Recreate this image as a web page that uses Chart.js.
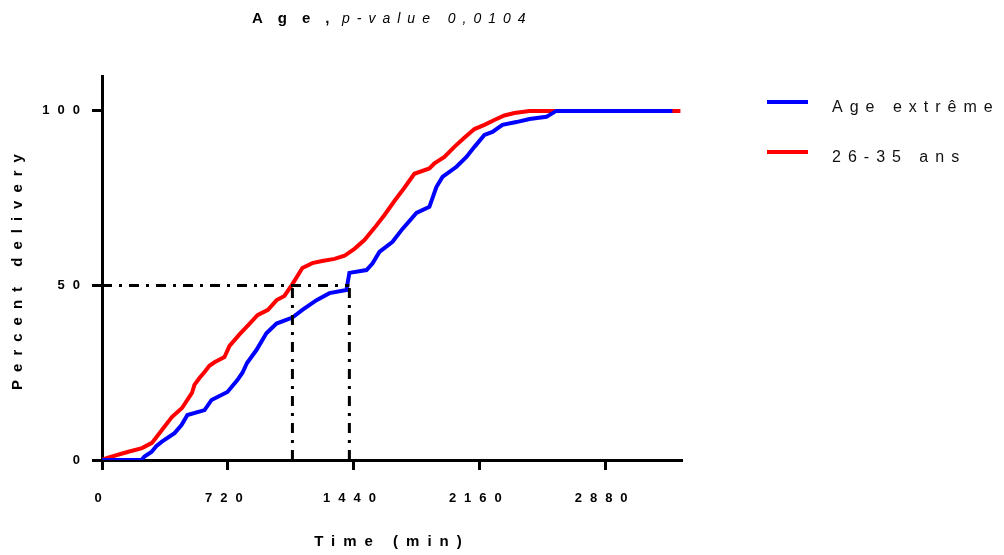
<!DOCTYPE html>
<html lang="en">

<head>
  <meta charset="UTF-8">
  <script src="https://cdn.jsdelivr.net/npm/chart.js"></script>
  <style>
    body { margin: 0; background: #fff; }
    .chart-box { width: 1004px; height: 555px; }
  </style>
</head>

<body>
  <div class="chart-box"><canvas id="deliveryChart"></canvas></div>

  <script>
    const titleMain = 'Age,';
    const titleSub = 'p-value 0,0104';
    const seriesNames = ['Age extrême', '26-35 ans'];

    // cumulative % delivered vs time (min)
    const extremeTimes = [0, 226, 243, 283, 312, 341, 415, 455, 489, 587, 627, 718, 775, 804, 830, 884, 941, 999, 1090, 1147, 1228, 1302, 1399, 1416, 1514, 1548, 1588, 1663, 1720, 1800, 1874, 1914, 1949, 2029, 2086, 2132, 2189, 2235, 2292, 2372, 2447, 2544, 2600, 3265];
    const extremePct = [0, 0, 1, 2.3, 4, 5.2, 7.7, 10, 12.9, 14.3, 17.2, 19.5, 22.9, 25, 27.8, 31.5, 36.3, 39.1, 40.8, 43, 45.8, 47.8, 48.7, 53.6, 54.4, 56.3, 59.6, 62.5, 66.2, 70.8, 72.5, 78.2, 81.1, 84, 86.8, 89.7, 93.1, 94, 96, 96.8, 97.7, 98.3, 100, 100];

    const youngTimes = [0, 30, 146, 229, 286, 343, 400, 458, 515, 529, 558, 587, 615, 644, 701, 730, 787, 844, 890, 950, 1000, 1044, 1090, 1147, 1204, 1260, 1331, 1388, 1445, 1502, 1560, 1617, 1674, 1731, 1788, 1874, 1903, 1960, 2017, 2074, 2132, 2189, 2246, 2303, 2361, 2447, 3311];
    const youngPct = [0, 0.6, 2.3, 3.4, 4.9, 8.6, 12.3, 14.9, 19.2, 21.5, 23.5, 25.2, 27, 28, 29.5, 32.7, 36, 39, 41.5, 43, 45.8, 47, 50.4, 55, 56.4, 57, 57.6, 58.5, 60.5, 63, 66.5, 70.2, 74.2, 78, 82, 83.5, 85, 86.8, 89.7, 92.3, 94.8, 96, 97.4, 98.7, 99.4, 100, 100];

    const medianTimes = [1090, 1416];
    const medianLevel = 50;

    const xTicks = [0, 720, 1440, 2160, 2880];
    const yTicks = [0, 50, 100];
    const xMax = 3320;
    const yMax = 110;

    const toPoints = (xs, ys) => xs.map((x, i) => ({ x: x, y: ys[i] }));

    const dashStyle = {
      borderColor: '#000',
      borderWidth: 3,
      borderDash: [10, 7, 3, 7],
      pointRadius: 0,
      order: 0
    };

    // title, letter spacing and the legend on the right
    const extrasPlugin = {
      id: 'extras',
      beforeDraw(chart) {
        chart.ctx.letterSpacing = '8px';
      },
      afterDraw(chart) {
        const ctx = chart.ctx;
        ctx.save();
        ctx.fillStyle = '#000';
        ctx.textAlign = 'left';
        ctx.textBaseline = 'alphabetic';

        ctx.letterSpacing = '15px';
        ctx.font = 'bold 15px "Liberation Sans", Arial, sans-serif';
        ctx.fillText(titleMain, 252, 23);
        ctx.letterSpacing = '7px';
        ctx.font = 'italic 14px "Liberation Sans", Arial, sans-serif';
        ctx.fillText(titleSub, 342, 23);

        ctx.letterSpacing = '7px';
        ctx.font = '16px "Liberation Sans", Arial, sans-serif';
        const items = chart.data.datasets.filter(d => seriesNames.includes(d.label));
        items.sort((a, b) => seriesNames.indexOf(a.label) - seriesNames.indexOf(b.label));
        items.forEach((ds, i) => {
          const y = 102 + i * 50;
          ctx.strokeStyle = ds.borderColor;
          ctx.lineWidth = 4;
          ctx.beginPath();
          ctx.moveTo(767, y);
          ctx.lineTo(808, y);
          ctx.stroke();
          ctx.fillStyle = '#111';
          ctx.fillText(ds.label, 832, y + 10);
        });
        ctx.restore();
      }
    };

    Chart.defaults.font.family = '"Liberation Sans", Arial, sans-serif';
    Chart.defaults.color = '#000';

    new Chart(document.getElementById('deliveryChart'), {
      type: 'line',
      data: {
        datasets: [
          Object.assign({ data: [{ x: 0, y: medianLevel }, { x: medianTimes[1], y: medianLevel }] }, dashStyle),
          Object.assign({ data: [{ x: medianTimes[0], y: 0 }, { x: medianTimes[0], y: medianLevel }] }, dashStyle),
          Object.assign({ data: [{ x: medianTimes[1], y: 0 }, { x: medianTimes[1], y: medianLevel }] }, dashStyle),
          {
            label: seriesNames[0],
            data: toPoints(extremeTimes, extremePct),
            borderColor: '#0000FF',
            borderWidth: 4,
            tension: 0,
            pointRadius: 0,
            order: 1
          },
          {
            label: seriesNames[1],
            data: toPoints(youngTimes, youngPct),
            borderColor: '#FF0000',
            borderWidth: 4,
            tension: 0,
            pointRadius: 0,
            order: 2
          }
        ]
      },
      options: {
        responsive: true,
        maintainAspectRatio: false,
        animation: false,
        layout: { padding: { top: 76, right: 322, left: 0, bottom: 0 } },
        plugins: {
          legend: { display: false },
          tooltip: { enabled: false }
        },
        scales: {
          x: {
            type: 'linear',
            min: 0,
            max: xMax,
            afterBuildTicks: scale => { scale.ticks = xTicks.map(v => ({ value: v })); },
            afterFit: scale => { scale.height = 95; },
            border: { color: '#000', width: 3 },
            grid: { drawOnChartArea: false, tickLength: 10, tickWidth: 3, tickColor: '#000' },
            ticks: {
              color: '#000',
              padding: 21,
              maxRotation: 0,
              font: { size: 13, weight: 'bold' },
              callback: value => String(value)
            },
            title: {
              display: true,
              text: 'Time (min)',
              color: '#000',
              font: { size: 15, weight: 'bold' },
              padding: { top: 0, bottom: 4 }
            }
          },
          y: {
            min: 0,
            max: yMax,
            afterBuildTicks: scale => { scale.ticks = yTicks.map(v => ({ value: v })); },
            afterFit: scale => { scale.width = 102; },
            border: { color: '#000', width: 3 },
            grid: { drawOnChartArea: false, tickLength: 10, tickWidth: 3, tickColor: '#000' },
            ticks: {
              color: '#000',
              padding: 4,
              font: { size: 13, weight: 'bold' },
              callback: value => String(value)
            },
            title: {
              display: true,
              text: 'Percent delivery',
              color: '#000',
              font: { size: 15, weight: 'bold' },
              padding: { top: 9, bottom: 6 }
            }
          }
        }
      },
      plugins: [extrasPlugin]
    });
  </script>
</body>

</html>
